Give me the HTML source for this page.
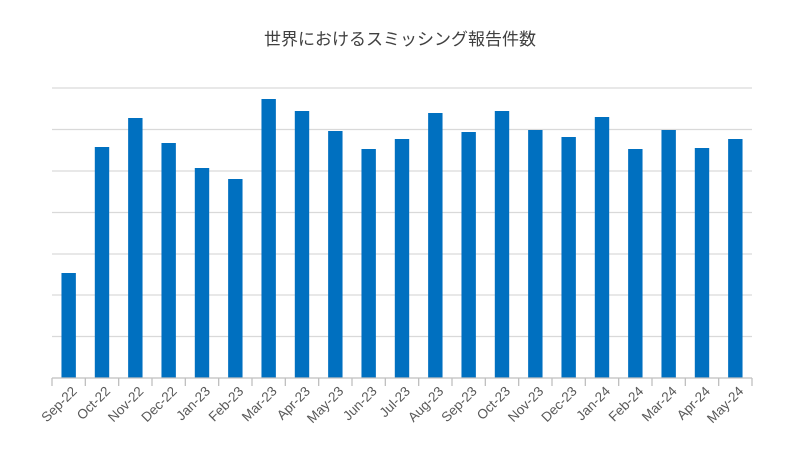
<!DOCTYPE html>
<html><head><meta charset="utf-8"><style>body{margin:0;background:#fff}</style></head><body>
<svg width="800" height="452" xmlns="http://www.w3.org/2000/svg" font-family="Liberation Sans, Noto Sans CJK JP, sans-serif">
<rect width="800" height="452" fill="#fff"/>
<text x="400" y="45" text-anchor="middle" font-size="17" fill="#404040" font-family="Liberation Sans, Noto Sans CJK JP, sans-serif">世界におけるスミッシング報告件数</text>
<g stroke="#d9d9d9" stroke-width="1.3">
<line x1="52" x2="752" y1="88" y2="88"/><line x1="52" x2="752" y1="129.5" y2="129.5"/>
<line x1="52" x2="752" y1="171" y2="171"/><line x1="52" x2="752" y1="212.5" y2="212.5"/>
<line x1="52" x2="752" y1="254" y2="254"/><line x1="52" x2="752" y1="295" y2="295"/>
<line x1="52" x2="752" y1="336.5" y2="336.5"/>
</g>
<g id="bars" fill="#0070c0"></g>
<g id="ax" stroke="#bfbfbf" stroke-width="1.3"><line x1="52" x2="752" y1="378" y2="378"/></g>
<g id="lb" font-size="13.5" fill="#595959" text-anchor="end"></g>
</svg>
<script>
var tops=[273,147,118,143,168,179,99,111,131,149,139,113,132,111,130,137,117,149,130,148,139];
var labs=["Sep-22","Oct-22","Nov-22","Dec-22","Jan-23","Feb-23","Mar-23","Apr-23","May-23","Jun-23","Jul-23","Aug-23","Sep-23","Oct-23","Nov-23","Dec-23","Jan-24","Feb-24","Mar-24","Apr-24","May-24"];
var ns="http://www.w3.org/2000/svg",w=700/21;
var b=document.getElementById('bars'),a=document.getElementById('ax'),l=document.getElementById('lb');
for(var i=0;i<21;i++){var c=52+w*(i+0.5);
var r=document.createElementNS(ns,'rect');r.setAttribute('x',c-7.2);r.setAttribute('y',tops[i]);r.setAttribute('width',14.4);r.setAttribute('height',378-tops[i]);b.appendChild(r);
var t=document.createElementNS(ns,'text');t.setAttribute('transform','translate('+(c+9)+',392) rotate(-45)');t.textContent=labs[i];l.appendChild(t);}
for(var i=0;i<=21;i++){var x=52+w*i;var ln=document.createElementNS(ns,'line');ln.setAttribute('x1',x);ln.setAttribute('x2',x);ln.setAttribute('y1',378);ln.setAttribute('y2',386);a.appendChild(ln);}
</script>
</body></html>
